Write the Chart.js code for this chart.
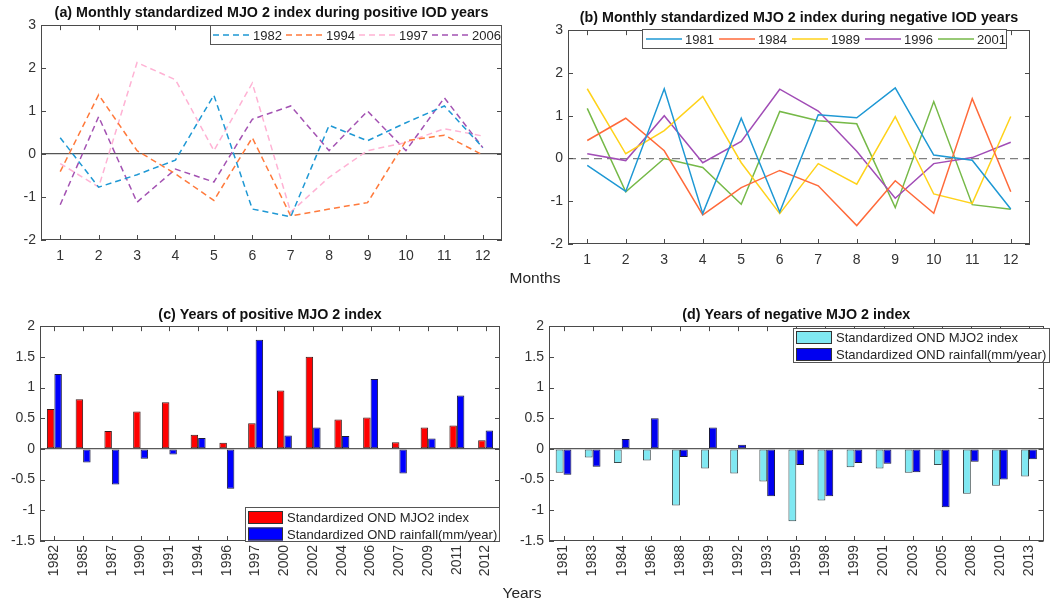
<!DOCTYPE html>
<html>
<head>
<meta charset="utf-8">
<script src="https://cdn.jsdelivr.net/npm/chart.js@4.4.1/dist/chart.umd.min.js"></script>
<style>
  html, body { margin: 0; padding: 0; background: #fff; }
  #fig { position: relative; width: 1050px; height: 603px; overflow: hidden; background: #fff; }
  .panel { position: absolute; }
  .axlabel { position: absolute; font-family: 'Liberation Sans', Arial, sans-serif; font-size: 15.5px; color: #262626; transform: translate(-50%, -50%); white-space: nowrap; }
</style>
</head>
<body>
<div id="fig">
  <div class="panel" style="left:0;top:0;width:525px;height:290px"><canvas id="ca"></canvas></div>
  <div class="panel" style="left:525px;top:0;width:525px;height:290px"><canvas id="cb"></canvas></div>
  <div class="panel" style="left:0;top:300px;width:520px;height:303px"><canvas id="cc"></canvas></div>
  <div class="panel" style="left:500px;top:300px;width:550px;height:303px"><canvas id="cd"></canvas></div>
  <div class="axlabel" style="left:535px;top:278px">Months</div>
  <div class="axlabel" style="left:522px;top:593px">Years</div>
</div>
<script>
// ---- monthly standardized MJO phase-2 index ----
const months = [1, 2, 3, 4, 5, 6, 7, 8, 9, 10, 11, 12];

// positive IOD years
const mjo1982 = [0.38, -0.77, -0.48, -0.14, 1.37, -1.28, -1.46, 0.67, 0.31, 0.73, 1.12, 0.15];
const mjo1994 = [-0.41, 1.38, 0.08, -0.46, -1.08, 0.38, -1.44, -1.28, -1.13, 0.31, 0.44, -0.02];
const mjo1997 = [-0.22, -0.77, 2.13, 1.73, 0.08, 1.65, -1.35, -0.54, 0.08, 0.27, 0.59, 0.42];
const mjo2006 = [-1.18, 0.87, -1.12, -0.35, -0.65, 0.81, 1.12, 0.08, 1.00, 0.08, 1.31, 0.15];

// negative IOD years
const mjo1981 = [-0.16, -0.77, 1.63, -1.29, 0.94, -1.25, 1.02, 0.95, 1.65, 0.08, -0.04, -1.18];
const mjo1984 = [0.42, 0.94, 0.18, -1.32, -0.68, -0.28, -0.64, -1.57, -0.52, -1.28, 1.40, -0.78];
const mjo1989 = [1.63, 0.11, 0.65, 1.45, -0.10, -1.29, -0.12, -0.60, 0.98, -0.83, -1.05, 0.98];
const mjo1996 = [0.11, -0.05, 1.00, -0.10, 0.40, 1.62, 1.11, 0.17, -0.93, -0.12, 0.02, 0.38];
const mjo2001 = [1.17, -0.78, 0.00, -0.21, -1.07, 1.10, 0.88, 0.81, -1.15, 1.33, -1.08, -1.19];

// ---- OND standardized index and rainfall ----
const posYears = ['1982','1985','1987','1990','1991','1994','1996','1997','2000','2002','2004','2006','2007','2009','2011','2012'];
const posIndex = [0.65, 0.81, 0.29, 0.61, 0.76, 0.23, 0.10, 0.42, 0.95, 1.50, 0.48, 0.51, 0.11, 0.35, 0.38, 0.14];
const posRain  = [1.22, -0.22, -0.58, -0.16, -0.09, 0.18, -0.65, 1.78, 0.22, 0.35, 0.21, 1.14, -0.40, 0.17, 0.87, 0.30];

const negYears = ['1981','1983','1984','1986','1988','1989','1992','1993','1995','1998','1999','2001','2003','2005','2008','2010','2013'];
const negIndex = [-0.39, -0.14, -0.23, -0.19, -0.92, -0.32, -0.40, -0.53, -1.18, -0.84, -0.30, -0.32, -0.39, -0.26, -0.73, -0.60, -0.45];
const negRain  = [-0.42, -0.29, 0.16, 0.50, -0.13, 0.35, 0.07, -0.77, -0.26, -0.77, -0.23, -0.24, -0.38, -0.95, -0.21, -0.50, -0.17];

const monthTicks = [-2, -1, 0, 1, 2, 3];
const barTicks = [-1.5, -1, -0.5, 0, 0.5, 1, 1.5, 2];

const FAMILY = "'Liberation Sans', Arial, Helvetica, sans-serif";
Chart.defaults.font.family = FAMILY;
Chart.defaults.color = '#333';
Chart.defaults.animation = false;

const plainNumber = v => String(v);

// Box around the plot area with inward tick marks on all four sides
const framePlugin = {
  id: 'frame',
  afterDatasetsDraw(chart) {
    const { ctx, chartArea: a, scales } = chart;
    const x = scales.x, y = scales.y, L = 5;
    ctx.save();
    ctx.strokeStyle = '#4a4a4a';
    ctx.lineWidth = 1;
    ctx.beginPath();
    x.ticks.forEach((t, i) => {
      const px = Math.round(x.getPixelForTick(i)) + 0.5;
      ctx.moveTo(px, a.bottom); ctx.lineTo(px, a.bottom - L);
      ctx.moveTo(px, a.top); ctx.lineTo(px, a.top + L);
    });
    y.ticks.forEach((t, i) => {
      const py = Math.round(y.getPixelForTick(i)) + 0.5;
      ctx.moveTo(a.left, py); ctx.lineTo(a.left + L, py);
      ctx.moveTo(a.right, py); ctx.lineTo(a.right - L, py);
    });
    ctx.stroke();
    ctx.strokeRect(Math.round(a.left) + 0.5, Math.round(a.top) + 0.5,
                   Math.round(a.right - a.left) - 1, Math.round(a.bottom - a.top) - 1);
    ctx.restore();
  }
};

// Boxed legend placed inside the axes
const boxLegendPlugin = {
  id: 'boxLegend',
  afterDraw(chart, args, o) {
    if (!o || !o.box) return;
    const ctx = chart.ctx;
    const [bx, by, bw, bh] = o.box;
    ctx.save();
    ctx.fillStyle = '#fff';
    ctx.fillRect(bx, by, bw, bh);
    ctx.strokeStyle = '#555';
    ctx.lineWidth = 1;
    ctx.strokeRect(bx + 0.5, by + 0.5, bw - 1, bh - 1);
    ctx.font = o.fontSize + 'px ' + FAMILY;
    ctx.textBaseline = 'middle';
    ctx.textAlign = 'left';
    chart.data.datasets.forEach((ds, i) => {
      if (o.mode === 'row') {
        const x0 = bx + o.first + i * o.pitch;
        const cy = by + bh / 2;
        ctx.strokeStyle = ds.borderColor;
        ctx.lineWidth = ds.borderWidth;
        ctx.setLineDash(ds.borderDash || []);
        ctx.beginPath();
        ctx.moveTo(x0, cy); ctx.lineTo(x0 + o.sample, cy);
        ctx.stroke();
        ctx.setLineDash([]);
        ctx.fillStyle = '#262626';
        ctx.fillText(ds.label, x0 + o.sample + o.gap, cy + 1);
      } else {
        const y0 = by + o.first + i * o.pitch;
        ctx.fillStyle = ds.backgroundColor;
        ctx.fillRect(bx + 3, y0, o.sample, o.swatchH);
        ctx.strokeStyle = '#333';
        ctx.lineWidth = 1;
        ctx.strokeRect(bx + 3.5, y0 + 0.5, o.sample - 1, o.swatchH - 1);
        ctx.fillStyle = '#262626';
        ctx.fillText(ds.label, bx + 3 + o.sample + o.gap, y0 + o.swatchH / 2 + 1);
      }
    });
    ctx.restore();
  }
};

function lineSet(label, values, color, dash) {
  return {
    label,
    data: months.map((m, i) => ({ x: m, y: values[i] })),
    borderColor: color,
    backgroundColor: color,
    borderWidth: 1.5,
    borderDash: dash,
    pointRadius: 0,
    tension: 0,
    fill: false
  };
}

function zeroGrid(color) {
  return {
    drawTicks: false,
    lineWidth: 1.3,
    color: c => (c.tick && c.tick.value === 0) ? color : 'rgba(0,0,0,0)'
  };
}

function lineChart(id, datasets, cfg) {
  return new Chart(document.getElementById(id), {
    type: 'line',
    data: { datasets },
    plugins: [framePlugin, boxLegendPlugin],
    options: {
      responsive: true,
      maintainAspectRatio: false,
      layout: { padding: { left: 0, right: cfg.padRight, top: 0, bottom: 0 } },
      scales: {
        x: {
          type: 'linear', min: 0.5, max: 12.5,
          afterBuildTicks: s => { s.ticks = months.map(v => ({ value: v })); },
          afterFit: s => { s.height = cfg.xHeight; },
          grid: { display: false, drawTicks: false },
          border: { display: false },
          ticks: { font: { size: 14 }, padding: cfg.xPad, maxRotation: 0, autoSkip: false, callback: plainNumber }
        },
        y: {
          min: -2, max: 3,
          afterBuildTicks: s => { s.ticks = monthTicks.map(v => ({ value: v })); },
          afterFit: s => { s.width = cfg.yWidth; },
          grid: zeroGrid(cfg.zeroColor),
          border: { display: false, dash: cfg.zeroDash },
          ticks: { font: { size: 14 }, padding: 5, callback: plainNumber }
        }
      },
      plugins: {
        legend: { display: false },
        tooltip: { enabled: false },
        title: {
          display: true, text: cfg.title, fullSize: false, color: '#111',
          font: { size: 14.3, weight: 'bold' }, padding: cfg.titlePad
        },
        boxLegend: cfg.legend
      }
    }
  });
}

function barChart(id, labels, datasets, cfg) {
  return new Chart(document.getElementById(id), {
    type: 'bar',
    data: { labels, datasets },
    plugins: [framePlugin, boxLegendPlugin],
    options: {
      responsive: true,
      maintainAspectRatio: false,
      layout: { padding: { left: 0, right: cfg.padRight, top: 0, bottom: 0 } },
      datasets: { bar: { categoryPercentage: cfg.catPct, barPercentage: 1.0, borderWidth: 1, borderSkipped: false } },
      scales: {
        x: {
          afterFit: s => { s.height = cfg.xHeight; },
          grid: { display: false, drawTicks: false },
          border: { display: false },
          ticks: { font: { size: 14 }, padding: 4, minRotation: 90, maxRotation: 90, autoSkip: false }
        },
        y: {
          min: -1.5, max: 2,
          afterBuildTicks: s => { s.ticks = barTicks.map(v => ({ value: v })); },
          afterFit: s => { s.width = cfg.yWidth; },
          grid: zeroGrid('#5a5a5a'),
          border: { display: false },
          ticks: { font: { size: 14 }, padding: 5, callback: plainNumber }
        }
      },
      plugins: {
        legend: { display: false },
        tooltip: { enabled: false },
        title: {
          display: true, text: cfg.title, fullSize: false, color: '#111',
          font: { size: 14.3, weight: 'bold' }, padding: { top: 6.4, bottom: 2.6 }
        },
        boxLegend: cfg.legend
      }
    }
  });
}

const DASH = [6, 4];

lineChart('ca', [
  lineSet('1982', mjo1982, '#1e98d4', DASH),
  lineSet('1994', mjo1994, '#ff7a3c', DASH),
  lineSet('1997', mjo1997, '#ffb2d4', DASH),
  lineSet('2006', mjo2006, '#a352b2', DASH)
], {
  title: '(a) Monthly standardized MJO 2 index during positive IOD years',
  titlePad: { top: 4.4, bottom: 3.6 },
  padRight: 23, yWidth: 41, xHeight: 50, xPad: 8,
  zeroColor: '#555', zeroDash: [],
  legend: { mode: 'row', box: [210, 25, 292, 20], first: 3, pitch: 73, sample: 37, gap: 3, fontSize: 13 }
});

lineChart('cb', [
  lineSet('1981', mjo1981, '#1e98d4', []),
  lineSet('1984', mjo1984, '#ff6a3a', []),
  lineSet('1989', mjo1989, '#ffd21a', []),
  lineSet('1996', mjo1996, '#a14db6', []),
  lineSet('2001', mjo2001, '#76b948', [])
], {
  title: '(b) Monthly standardized MJO 2 index during negative IOD years',
  titlePad: { top: 9.4, bottom: 3.6 },
  padRight: 20, yWidth: 43, xHeight: 46, xPad: 7.5,
  zeroColor: '#808080', zeroDash: [8, 5],
  legend: { mode: 'row', box: [117, 29, 365, 20], first: 4, pitch: 73, sample: 36, gap: 3, fontSize: 13 }
});

barChart('cc', posYears, [
  { label: 'Standardized OND MJO2 index', data: posIndex, backgroundColor: '#ff0000', borderColor: '#3a1a1a' },
  { label: 'Standardized OND rainfall(mm/year)', data: posRain, backgroundColor: '#0000ff', borderColor: '#1a1a3a' }
], {
  title: '(c) Years of positive MJO 2 index',
  padRight: 20, yWidth: 40, xHeight: 62, catPct: 0.52,
  legend: { mode: 'col', box: [245, 207, 255, 35], first: 4, pitch: 16.5, sample: 35, swatchH: 13, gap: 4, fontSize: 13 }
});

barChart('cd', negYears, [
  { label: 'Standardized OND MJO2 index', data: negIndex, backgroundColor: '#80e8f2', borderColor: '#3a4a4c' },
  { label: 'Standardized OND rainfall(mm/year)', data: negRain, backgroundColor: '#0000f0', borderColor: '#1a1a3a' }
], {
  title: '(d) Years of negative MJO 2 index',
  padRight: 1, yWidth: 49, xHeight: 62, catPct: 0.54,
  legend: { mode: 'col', box: [293, 28, 257, 35], first: 3, pitch: 17, sample: 36, swatchH: 13, gap: 4, fontSize: 13 }
});
</script>
</body>
</html>
